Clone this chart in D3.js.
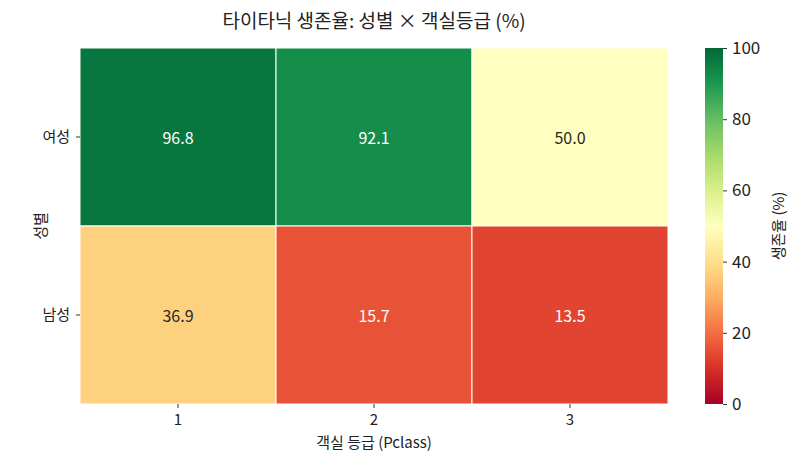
<!DOCTYPE html>
<html>
<head>
<meta charset="utf-8">
<script src="https://cdn.jsdelivr.net/npm/d3@7"></script>
<style>
  body { margin: 0; background: #fff; }
  svg text { font-family: "Noto Sans CJK KR", "Noto Sans", sans-serif; fill: #222; }
</style>
</head>
<body>
<svg id="chart" width="803" height="466"></svg>
<script>
// data
const classes = ["1", "2", "3"];
const sexes = ["여성", "남성"];
const femaleRates = [96.8, 92.1, 50.0];
const maleRates = [36.9, 15.7, 13.5];
const cbarTicks = [0, 20, 40, 60, 80, 100];
// matplotlib RdYlGn anchors (colorbrewer 11)
const rdylgn = ["#a50026", "#d73027", "#f46d43", "#fdae61", "#fee08b", "#ffffbf",
                "#d9ef8b", "#a6d96a", "#66bd63", "#1a9850", "#006837"];

const cells = [];
sexes.forEach((s, i) => {
  const vals = i === 0 ? femaleRates : maleRates;
  classes.forEach((c, j) => cells.push({ sex: s, pclass: c, value: vals[j] }));
});

const svg = d3.select("#chart");
const plotL = 80, plotR = 668, plotT = 48, plotB = 404;

const x = d3.scaleBand().domain(classes).range([plotL, plotR]);
const y = d3.scaleBand().domain(sexes).range([plotT, plotB]);
const color = d3.scaleLinear()
  .domain(d3.range(11).map(i => i * 10))
  .range(rdylgn)
  .interpolate(d3.interpolateRgb);

// title
svg.append("text")
  .attr("x", 374).attr("y", 28)
  .attr("text-anchor", "middle")
  .style("font-size", "19px")
  .text("타이타닉 생존율: 성별 × 객실등급 (%)");

// cells
svg.append("g").selectAll("rect")
  .data(cells)
  .join("rect")
  .attr("x", d => x(d.pclass))
  .attr("y", d => y(d.sex))
  .attr("width", x.bandwidth())
  .attr("height", y.bandwidth())
  .attr("fill", d => color(d.value))
  .attr("stroke", "#fff")
  .attr("stroke-width", 1);

// annotations
svg.append("g").selectAll("text")
  .data(cells)
  .join("text")
  .attr("x", d => x(d.pclass) + x.bandwidth() / 2)
  .attr("y", d => y(d.sex) + y.bandwidth() / 2)
  .attr("text-anchor", "middle")
  .attr("dominant-baseline", "central")
  .style("font-size", "16px")
  .style("fill", d => (d.value > 80 || d.value < 25) ? "#fff" : "#262626")
  .text(d => d.value.toFixed(1));

// axes
const xAxis = svg.append("g")
  .attr("transform", `translate(0,${plotB})`)
  .call(d3.axisBottom(x).tickSize(4).tickPadding(6));
const yAxis = svg.append("g")
  .attr("transform", `translate(${plotL},0)`)
  .call(d3.axisLeft(y).tickSize(4).tickPadding(6));
[xAxis, yAxis].forEach(g => {
  g.select(".domain").remove();
  g.selectAll("text").style("font-size", "15px").style("fill", "#222");
  g.selectAll("line").attr("stroke", "#333");
});

svg.append("text")
  .attr("x", (plotL + plotR) / 2).attr("y", 448)
  .attr("text-anchor", "middle")
  .style("font-size", "15px")
  .text("객실 등급 (Pclass)");

svg.append("text")
  .attr("transform", `translate(46,${(plotT + plotB) / 2}) rotate(-90)`)
  .attr("text-anchor", "middle")
  .style("font-size", "15px")
  .text("성별");

// colorbar
const cbX = 705, cbW = 18;
const cbScale = d3.scaleLinear().domain([0, 100]).range([plotB, plotT]);
const defs = svg.append("defs");
const grad = defs.append("linearGradient")
  .attr("id", "cbgrad")
  .attr("x1", 0).attr("y1", 1).attr("x2", 0).attr("y2", 0);
grad.selectAll("stop")
  .data(rdylgn)
  .join("stop")
  .attr("offset", (d, i) => i / 10)
  .attr("stop-color", d => d);

svg.append("rect")
  .attr("x", cbX).attr("y", plotT)
  .attr("width", cbW).attr("height", plotB - plotT)
  .attr("fill", "url(#cbgrad)");

const cbAxis = svg.append("g")
  .attr("transform", `translate(${cbX + cbW},0)`)
  .call(d3.axisRight(cbScale).tickValues(cbarTicks).tickSize(4).tickPadding(5));
cbAxis.select(".domain").remove();
cbAxis.selectAll("text").style("font-size", "17px").style("fill", "#222");
cbAxis.selectAll("line").attr("stroke", "#333");

svg.append("text")
  .attr("transform", `translate(784,${(plotT + plotB) / 2}) rotate(-90)`)
  .attr("text-anchor", "middle")
  .style("font-size", "15px")
  .text("생존율 (%)");
</script>
</body>
</html>
